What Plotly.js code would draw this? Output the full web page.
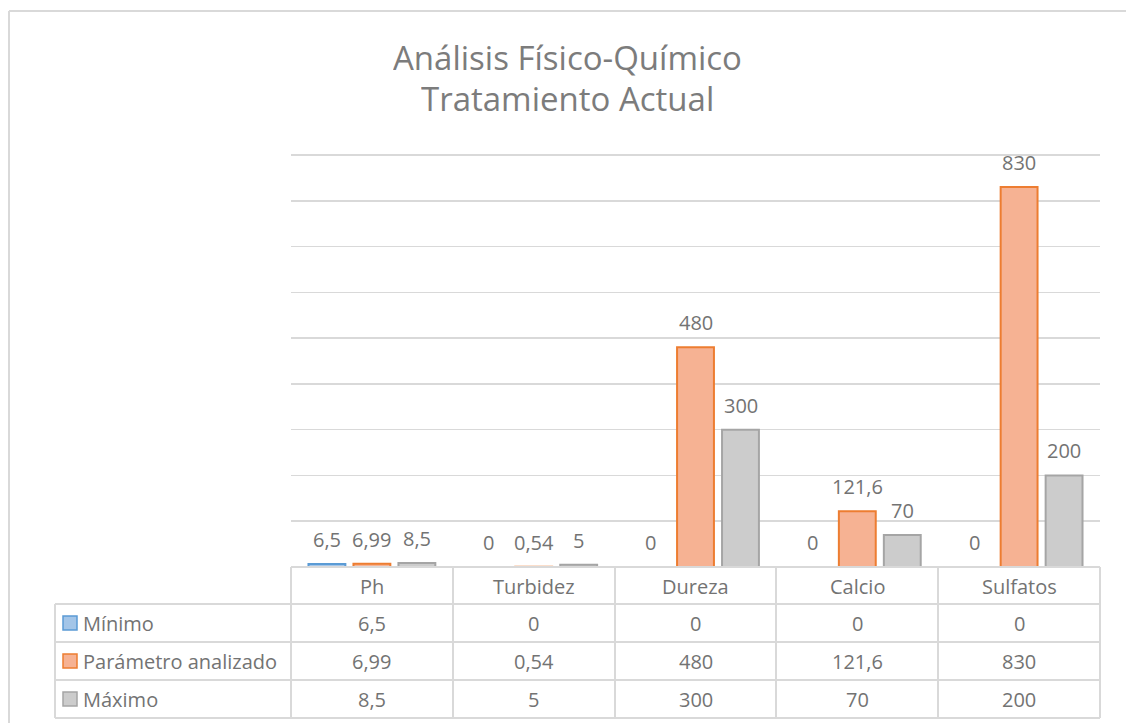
<!DOCTYPE html>
<html>
<head>
<meta charset="utf-8">
<script src="https://cdn.plot.ly/plotly-3.0.1.min.js"></script>
<style>
  html, body { margin: 0; padding: 0; background: #ffffff; }
  #chart { width: 1126px; height: 723px; }
</style>
</head>
<body>
<div id="chart"></div>
<script>
// datos
const categories = ['Ph', 'Turbidez', 'Dureza', 'Calcio', 'Sulfatos'];
const seriesNames = ['Mínimo', 'Parámetro analizado', 'Máximo'];
const minimo = [6.5, 0, 0, 0, 0];
const parametro = [6.99, 0.54, 480, 121.6, 830];
const maximo = [8.5, 5, 300, 70, 200];
const titleLines = ['Análisis Físico-Químico', 'Tratamiento Actual'];

const W = 1126, H = 723;
// zona del gráfico en píxeles
const plotL = 291, plotR = 1100, plotT = 155, plotB = 567;
const X = px => (px - plotL) / (plotR - plotL);
const Y = py => (plotB - py) / (plotB - plotT);

const txtColor = '#737373';
const gridColor = '#d9d9d9';
const font = 'Open Sans, sans-serif';
const fsize = 20;

const fmt = v => String(v).replace('.', ',');

const styles = [
    { fill: '#a3c5e8', line: '#5b9bd5' },
    { fill: '#f6b293', line: '#ed7d31' },
    { fill: '#cccccc', line: '#a5a5a5' }
];
const allSeries = [minimo, parametro, maximo];

const traces = allSeries.map((vals, i) => ({
    type: 'bar',
    x: categories,
    y: vals,
    name: seriesNames[i],
    marker: { color: styles[i].fill, line: { color: styles[i].line, width: 2 } },
    hoverinfo: 'x+y+name'
}));

// etiquetas de datos encima de las barras
let annotations = [];
allSeries.forEach((vals, i) => {
    vals.forEach((v, j) => {
        annotations.push({
            x: categories[j], y: v, xref: 'x', yref: 'y',
            xshift: (i - 1) * 45, yshift: 9,
            yanchor: 'bottom', showarrow: false,
            text: fmt(v),
            font: { family: font, size: fsize, color: txtColor }
        });
    });
});

// título en dos líneas
titleLines.forEach((t, k) => {
    annotations.push({
        x: X(567), xref: 'paper', y: Y(57 + k * 40.5), yref: 'paper',
        yanchor: 'middle', showarrow: false, text: t, height: 38,
        font: { family: font, size: 33, color: '#7c7c7c' }
    });
});

// tabla de datos
const colEdges = [291, 453, 615, 776, 938, 1100];
const rowEdges = [567, 604, 642, 680, 718];
const rowLeft = 55;

let shapes = [];
const line = (x0, y0, x1, y1) => shapes.push({
    type: 'line', xref: 'paper', yref: 'paper',
    x0: X(x0), y0: Y(y0), x1: X(x1), y1: Y(y1),
    line: { color: gridColor, width: 2 }
});

// borde del gráfico
line(9, 11, 1130, 11);
line(9, 11, 9, 730);
// línea superior de la cuadrícula (900)
line(plotL, plotT, plotR, plotT);

line(plotL, rowEdges[0], plotR, rowEdges[0]);
for (let r = 1; r < rowEdges.length; r++) line(rowLeft, rowEdges[r], plotR, rowEdges[r]);
line(rowLeft, rowEdges[1], rowLeft, rowEdges[4]);
colEdges.forEach(cx => line(cx, rowEdges[0], cx, rowEdges[4]));

// encabezados de categoría
categories.forEach(c => {
    annotations.push({
        x: c, xref: 'x', y: Y(586), yref: 'paper', yanchor: 'middle',
        showarrow: false, text: c,
        font: { family: font, size: fsize, color: txtColor }
    });
});

// filas de la tabla
allSeries.forEach((vals, i) => {
    const cy = (rowEdges[i + 1] + rowEdges[i + 2]) / 2;
    shapes.push({
        type: 'rect', xref: 'paper', yref: 'paper',
        x0: X(63), x1: X(77), y0: Y(cy - 7), y1: Y(cy + 7),
        fillcolor: styles[i].fill, line: { color: styles[i].line, width: 1.5 }
    });
    annotations.push({
        x: X(81), xref: 'paper', xanchor: 'left', y: Y(cy), yref: 'paper', yanchor: 'middle',
        showarrow: false, text: seriesNames[i],
        font: { family: font, size: fsize, color: txtColor }
    });
    vals.forEach((v, j) => {
        annotations.push({
            x: categories[j], xref: 'x', y: Y(cy), yref: 'paper', yanchor: 'middle',
            showarrow: false, text: fmt(v),
            font: { family: font, size: fsize, color: txtColor }
        });
    });
});

const layout = {
    width: W, height: H,
    paper_bgcolor: '#ffffff', plot_bgcolor: '#ffffff',
    margin: { l: plotL, r: W - plotR, t: plotT, b: H - plotB, pad: 0 },
    showlegend: false,
    barmode: 'group',
    bargap: 0.166,
    bargroupgap: 0.18,
    xaxis: { showticklabels: false, showgrid: false, zeroline: false, showline: false, fixedrange: true },
    yaxis: {
        range: [0, 900], dtick: 100, showticklabels: false,
        showgrid: true, gridcolor: gridColor, gridwidth: 1.5,
        zeroline: false, showline: false, fixedrange: true
    },
    shapes: shapes,
    annotations: annotations
};

Plotly.newPlot('chart', traces, layout, { displayModeBar: false, staticPlot: true });
</script>
</body>
</html>
